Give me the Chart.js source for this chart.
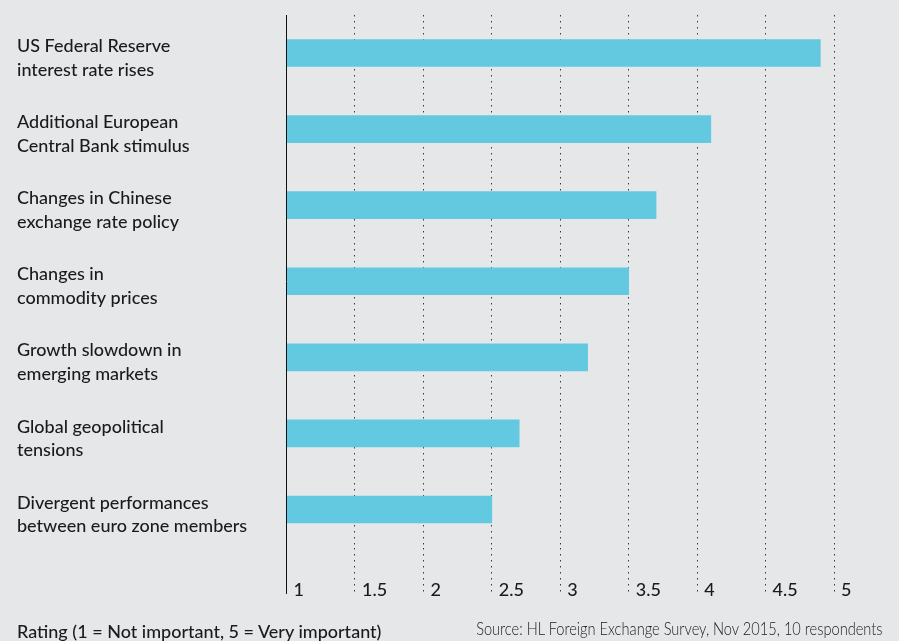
<!DOCTYPE html>
<html>
<head>
<meta charset="utf-8">
<script src="https://cdn.jsdelivr.net/npm/chart.js@4/dist/chart.umd.min.js"></script>
<style>
  html, body { margin: 0; padding: 0; background: #e6e7e9; }
  #wrap { position: relative; width: 899px; height: 641px; overflow: hidden; }
  #chart { position: absolute; left: 0; top: 0; }
  .note { position: absolute; white-space: nowrap; color: #1b1b1b; line-height: 18px; }
  #rating { left: 17px; top: 620px; font: 500 18px Lato, sans-serif; }
  #source { right: 16px; top: 618px; font: 300 17px Lato, sans-serif; transform-origin: right center; transform: scaleX(0.86); }
</style>
</head>
<body>
<div id="wrap">
  <canvas id="chart" width="899" height="641"></canvas>
  <div class="note" id="rating">Rating (1 = Not important, 5 = Very important)</div>
  <div class="note" id="source">Source: HL Foreign Exchange Survey, Nov 2015, 10 respondents</div>
</div>
<script>
// Factors, two lines each
const factors = [
  ['US Federal Reserve', 'interest rate rises'],
  ['Additional European', 'Central Bank stimulus'],
  ['Changes in Chinese', 'exchange rate policy'],
  ['Changes in', 'commodity prices'],
  ['Growth slowdown in', 'emerging markets'],
  ['Global geopolitical', 'tensions'],
  ['Divergent performances', 'between euro zone members']
];

// Average importance rating per factor
const ratings = [4.9, 4.1, 3.7, 3.5, 3.2, 2.7, 2.5];

// Rating scale ticks
const ratingTicks = [1, 1.5, 2, 2.5, 3, 3.5, 4, 4.5, 5];

const DOTS = [1.5, 4.5];

// keep axis label overhang from pushing the plot area around
const noEdgePadding = (scale) => {
  scale.paddingTop = 0; scale.paddingBottom = 0;
  scale.paddingLeft = 0; scale.paddingRight = 0;
};

new Chart(document.getElementById('chart'), {
  type: 'bar',
  data: {
    labels: factors,
    datasets: [{
      data: ratings,
      base: 1,
      backgroundColor: '#63c9e1',
      borderWidth: 0,
      barThickness: 27
    }]
  },
  options: {
    indexAxis: 'y',
    responsive: false,
    animation: false,
    devicePixelRatio: 1,
    layout: { padding: { top: 15, left: 17, right: 65, bottom: 33.5 } },
    plugins: { legend: { display: false }, tooltip: { enabled: false } },
    scales: {
      x: {
        type: 'linear',
        position: 'bottom',
        min: ratingTicks[0],
        max: ratingTicks[ratingTicks.length - 1],
        afterBuildTicks: (scale) => { scale.ticks = ratingTicks.map(v => ({ value: v })); },
        afterFit: (scale) => { scale.height = 60; noEdgePadding(scale); },
        border: { display: false, dash: DOTS },
        grid: {
          color: '#3a3a3a',
          lineWidth: 1,
          drawTicks: true,
          tickLength: 46.5,
          tickColor: (ctx) => ctx.tick && ctx.tick.value === 1 ? '#111' : '#3a3a3a',
          tickBorderDash: (ctx) => ctx.tick && ctx.tick.value === 1 ? [] : DOTS
        },
        ticks: {
          callback: (v) => String(v),
          align: 'start',
          labelOffset: 7,
          padding: -15,
          maxRotation: 0,
          autoSkip: false,
          color: '#1b1b1b',
          font: { family: 'Lato', size: 18, weight: 500 }
        }
      },
      y: {
        afterFit: (scale) => { scale.width = 269.5; noEdgePadding(scale); },
        grid: { display: false, drawTicks: false },
        border: { display: true, color: '#111', width: 1, z: 1 },
        ticks: {
          crossAlign: 'far',
          labelOffset: 5,
          color: '#1b1b1b',
          font: { family: 'Lato', size: 18, weight: 500, lineHeight: 1.3 }
        }
      }
    }
  }
});
</script>
</body>
</html>
